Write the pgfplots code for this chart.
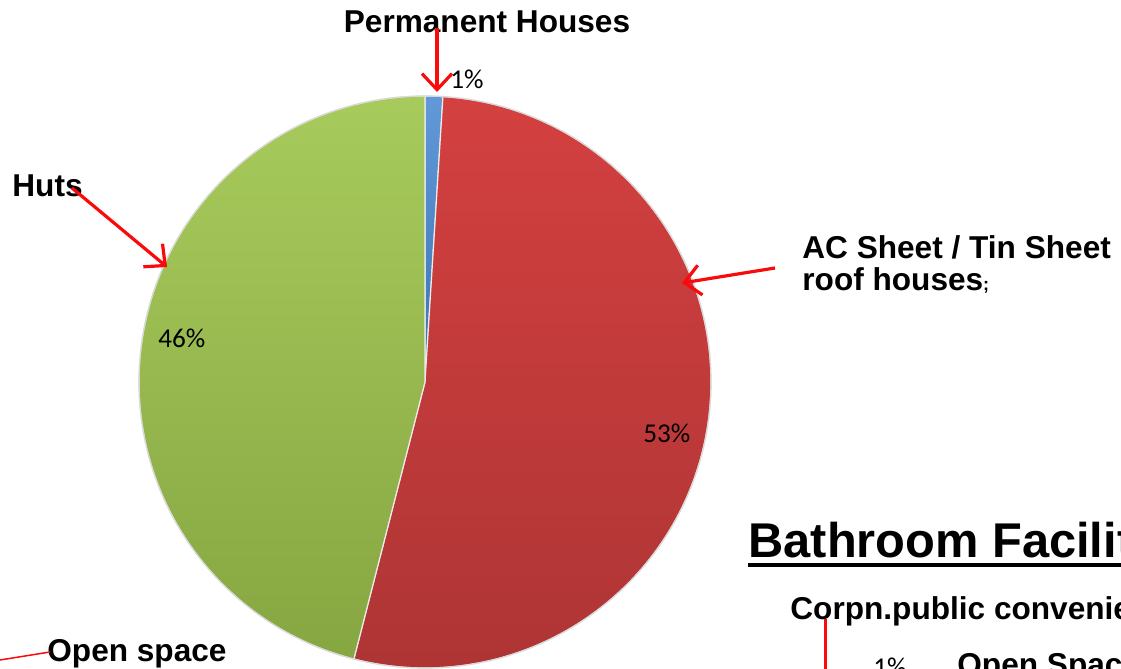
\documentclass[border=0pt]{standalone}
\usepackage{pgfplots}
\pgfplotsset{compat=1.18}
\usepackage{pgfplotstable}
\usetikzlibrary{arrows.meta}
\usepackage{fontspec}
\setmainfont{Liberation Sans}
\newfontfamily\calibri{Carlito}

\definecolor{pblue}{RGB}{70,135,210}
\definecolor{pred}{RGB}{212,64,64}
\definecolor{pgreen}{RGB}{160,198,78}
\definecolor{arrowred}{RGB}{250,10,10}

% housing type shares (%)
\pgfplotstableread{
label value
Permanent 1
ACSheet 53
Huts 46
}\housing

\begin{document}
\begin{tikzpicture}[
  arr/.style={draw=arrowred, line width=1.6pt, -{Straight Barb[length=8pt,width=15pt,line width=1.6pt]}},
  lab/.style={font=\fontsize{15.8}{15.5}\selectfont\bfseries, inner sep=0pt},
  pct/.style={font=\calibri\fontsize{13.6}{15}\selectfont, inner sep=0pt},
]
\useasboundingbox (0,0) rectangle (560.5pt,334.5pt);
\clip (0,0) rectangle (560.5pt,334.5pt);

\pgfplotstablegetelem{0}{value}\of\housing \pgfmathtruncatemacro\va{\pgfplotsretval}
\pgfplotstablegetelem{1}{value}\of\housing \pgfmathtruncatemacro\vb{\pgfplotsretval}
\pgfplotstablegetelem{2}{value}\of\housing \pgfmathtruncatemacro\vc{\pgfplotsretval}
\pgfmathsetmacro\aA{90}
\pgfmathsetmacro\aB{\aA-3.6*\va}
\pgfmathsetmacro\aC{\aB-3.6*\vb}
\pgfmathsetmacro\aD{\aC-3.6*\vc}

\begin{axis}[
  at={(0,0)}, anchor=south west,
  width=560.5pt, height=334.5pt, scale only axis,
  xmin=0, xmax=1121, ymin=0, ymax=669,
  hide axis, clip=false,
]
% pie wedges, radius 286 units = 143pt
\shade[top color=pblue!85!white, bottom color=pblue!85!black, draw=white!85!gray, line width=0.6pt]
  (axis cs:425,287) -- ++(\aA:143pt) arc[start angle=\aA, end angle=\aB, radius=143pt] -- cycle;
\shade[top color=pred, bottom color=pred!82!black, draw=white!85!gray, line width=0.6pt]
  (axis cs:425,287) -- ++(\aB:143pt) arc[start angle=\aB, end angle=\aC, radius=143pt] -- cycle;
\shade[top color=pgreen!92!white, bottom color=pgreen!84!black, draw=white!85!gray, line width=0.6pt]
  (axis cs:425,287) -- ++(\aC:143pt) arc[start angle=\aC, end angle=\aD, radius=143pt] -- cycle;
\draw[black!15, line width=0.6pt] (axis cs:425,287) circle[radius=143pt];

% percentage labels
\node[pct, anchor=base west] at (axis cs:450,580) {\va\%};
\node[pct, anchor=base west] at (axis cs:643,226) {\vb\%};
\node[pct, anchor=base west] at (axis cs:158,321) {\vc\%};

% category labels and arrows
\node[lab, anchor=base] at (axis cs:487,636) {Permanent Houses};
\draw[arr] (axis cs:437,641) -- (axis cs:437,577);
\node[lab, anchor=base west] at (axis cs:12,472) {Huts};
\draw[arr] (axis cs:72,481) -- (axis cs:167,402);
\node[lab, anchor=base west] at (axis cs:802,410) {AC Sheet / Tin Sheet};
\node[lab, anchor=base west] at (axis cs:802,378) {roof houses{\fontsize{9}{9}\selectfont;}};
\draw[arr] (axis cs:775,401) -- (axis cs:682,386);
\node[lab, anchor=base west] at (axis cs:47,7) {Open space};
\draw[arrowred, line width=0.75pt] (axis cs:0,9) -- (axis cs:50,17);

% second chart, cut off at the edge
\node[font=\fontsize{24.4}{26}\selectfont\bfseries, inner sep=0pt, anchor=base west] at (axis cs:748,111) {Bathroom Facilities};
\draw[black, line width=1.6pt] (axis cs:748,104) -- (axis cs:1125,104);
\node[lab, anchor=base west] at (axis cs:790,49) {Corpn.public convenience};
\draw[arrowred, line width=1.5pt] (axis cs:825,50) -- (axis cs:825,-5);
\node[pct, anchor=base west] at (axis cs:873,-8) {1\%};
\node[lab, anchor=base west] at (axis cs:957,-7) {Open Space};
\end{axis}
\end{tikzpicture}
\end{document}
